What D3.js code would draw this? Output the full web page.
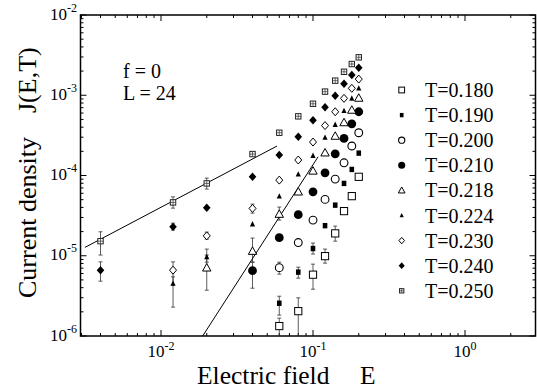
<!DOCTYPE html>
<html><head><meta charset="utf-8">
<script src="https://cdn.jsdelivr.net/npm/d3@7"></script>
<style>html,body{margin:0;padding:0;background:#fff;} svg{display:block;}</style>
</head><body>
<svg id="chart" width="537" height="391"></svg>
<script>
// ---------------- data ----------------
const E_vals = [0.004, 0.012, 0.02, 0.04, 0.06, 0.08, 0.1, 0.12, 0.14, 0.16, 0.18, 0.2];

const labels = ["T=0.180","T=0.190","T=0.200","T=0.210","T=0.218","T=0.224","T=0.230","T=0.240","T=0.250"];
const symbolTypes = ["sqOpen","sqFill","circOpen","circFill","triOpen","triFill","diaOpen","diaFill","sqCross"];

const J_T180 = [null,null,null,null,1.33e-6,2.04e-6,5.81e-6,9.89e-6,1.90e-5,3.60e-5,5.53e-5,9.63e-5];
const J_T190 = [null,null,null,null,2.56e-6,6.25e-6,1.23e-5,2.37e-5,4.27e-5,7.97e-5,1.19e-4,1.90e-4];
const J_T200 = [null,null,null,null,7.11e-6,1.46e-5,2.78e-5,5.04e-5,9.02e-5,1.44e-4,2.33e-4,3.41e-4];
const J_T210 = [null,null,null,6.52e-6,1.68e-5,3.25e-5,6.26e-5,1.08e-4,1.86e-4,2.90e-4,4.41e-4,6.23e-4];
const J_T218 = [null,null,7.07e-6,1.14e-5,3.30e-5,6.26e-5,1.14e-4,1.92e-4,3.10e-4,4.57e-4,6.54e-4,9.23e-4];
const J_T224 = [null,4.52e-6,9.69e-6,2.48e-5,5.53e-5,1.04e-4,1.77e-4,2.97e-4,4.31e-4,6.41e-4,9.15e-4,1.22e-3];
const J_T230 = [null,6.61e-6,1.77e-5,3.89e-5,8.76e-5,1.56e-4,2.61e-4,4.19e-4,6.23e-4,9.15e-4,1.22e-3,1.59e-3];
const J_T240 = [6.61e-6,2.29e-5,3.96e-5,9.63e-5,1.80e-4,3.04e-4,4.88e-4,7.09e-4,9.86e-4,1.39e-3,1.79e-3,2.20e-3];
const J_T250 = [1.52e-5,4.62e-5,7.97e-5,1.85e-4,3.41e-4,5.46e-4,7.83e-4,1.11e-3,1.52e-3,1.96e-3,2.45e-3,2.97e-3];

// error bars: [E, lower, upper]
const err_T180 = [[0.06,8e-7,1.67e-6],[0.08,8e-7,2.99e-6],[0.1,3.83e-6,7.86e-6],[0.12,8.09e-6,1.21e-5],[0.14,1.52e-5,2.34e-5]];
const err_T190 = [[0.06,1.82e-6,3.13e-6],[0.08,5.26e-6,7.21e-6],[0.1,1.05e-5,1.44e-5]];
const err_T200 = [[0.06,5.90e-6,8.32e-6]];
const err_T210 = [[0.04,3.94e-6,8.32e-6]];
const err_T218 = [[0.02,3.72e-6,1.02e-5],[0.04,8.32e-6,1.66e-5],[0.06,2.78e-5,4.04e-5]];
const err_T224 = [[0.012,2.29e-6,5.46e-6],[0.02,8.32e-6,1.21e-5]];
const err_T230 = [[0.012,4.30e-6,8.39e-6],[0.02,1.61e-5,1.97e-5],[0.04,3.40e-5,4.40e-5]];
const err_T240 = [[0.004,4.82e-6,8.39e-6],[0.012,2.09e-5,2.55e-5]];
const err_T250 = [[0.004,1.02e-5,1.99e-5],[0.012,3.92e-5,5.42e-5],[0.02,6.77e-5,9.28e-5]];

// fitted lines: two end points [E, J]
const fitLinear = [[0.00316,1.27e-5],[0.058,2.33e-4]];
const fitSteep = [[0.0188,1e-6],[0.108,1.71e-4]];

const xTickValues = [0.01, 0.1, 1];
const xTickExp = ["-2","-1","0"];
const yTickValues = [1e-6,1e-5,1e-4,1e-3,1e-2];
const yTickExp = ["-6","-5","-4","-3","-2"];

const annotations = ["f = 0", "L = 24"];
const xTitle = ["Electric field", "E"];
const yTitle = ["Current density", "J(E,T)"];

// ---------------- build ----------------
const seriesJ = [J_T180,J_T190,J_T200,J_T210,J_T218,J_T224,J_T230,J_T240,J_T250];
const seriesErr = [err_T180,err_T190,err_T200,err_T210,err_T218,err_T224,err_T230,err_T240,err_T250];

const FONT = "'Liberation Serif','Times New Roman',Times,serif";
const svg = d3.select('#chart');
const x = d3.scaleLog().domain([0.01, 1]).range([161, 465]);
const y = d3.scaleLog().domain([1e-6, 1e-2]).range([336, 15]);
const PX0 = 80.5, PX1 = 535.5;
const xLo = x.invert(PX0), xHi = x.invert(PX1);
const PY0 = y(1e-6), PY1 = y(1e-2);

svg.append('defs').append('clipPath').attr('id','clip')
  .append('rect').attr('x',PX0).attr('y',PY1).attr('width',PX1-PX0).attr('height',PY0-PY1);

// ticks
const axisG = svg.append('g').attr('stroke','#000').attr('stroke-width',1);
function decadeTicks(lo, hi){
  const out=[];
  for(let e=Math.floor(Math.log10(lo)); e<=Math.ceil(Math.log10(hi)); e++){
    for(let k=1;k<=9;k++){ const v=k*Math.pow(10,e); if(v>=lo*0.999 && v<=hi*1.001) out.push({v, major:k===1}); }
  }
  return out;
}
decadeTicks(xLo, xHi).forEach(t=>{
  const px = x(t.v), L = t.major?6:3;
  axisG.append('line').attr('x1',px).attr('x2',px).attr('y1',PY0).attr('y2',PY0-L);
  axisG.append('line').attr('x1',px).attr('x2',px).attr('y1',PY1).attr('y2',PY1+L);
});
decadeTicks(1e-6, 1e-2).forEach(t=>{
  const py = y(t.v), L = t.major?6:3;
  axisG.append('line').attr('x1',PX0).attr('x2',PX0+L).attr('y1',py).attr('y2',py);
  axisG.append('line').attr('x1',PX1).attr('x2',PX1-L).attr('y1',py).attr('y2',py);
});
svg.append('rect').attr('x',PX0).attr('y',PY1).attr('width',PX1-PX0).attr('height',PY0-PY1)
  .attr('fill','none').attr('stroke','#000').attr('stroke-width',1.5);

// tick labels
xTickValues.forEach((v,i)=>{
  const t = svg.append('text').attr('x',x(v)).attr('y',357).attr('text-anchor','middle')
    .attr('font-family',FONT).attr('font-size',17);
  t.append('tspan').text('10');
  t.append('tspan').attr('dy',-7).attr('font-size',12).text(xTickExp[i]);
});
yTickValues.forEach((v,i)=>{
  const t = svg.append('text').attr('x',77).attr('y',y(v)+4.5).attr('text-anchor','end')
    .attr('font-family',FONT).attr('font-size',17);
  t.append('tspan').text('10');
  t.append('tspan').attr('dy',-8).attr('font-size',12).text(yTickExp[i]);
});

// axis titles
svg.append('text').attr('x',197).attr('y',384).attr('font-family',FONT).attr('font-size',25.5).text(xTitle[0]);
svg.append('text').attr('x',360).attr('y',384).attr('font-family',FONT).attr('font-size',25.5).text(xTitle[1]);
svg.append('text').attr('transform','translate(35.5,298) rotate(-90)').attr('font-family',FONT).attr('font-size',26).text(yTitle[0]);
svg.append('text').attr('transform','translate(35.5,113) rotate(-90)').attr('font-family',FONT).attr('font-size',26).text(yTitle[1]);

// annotations
annotations.forEach((a,i)=>{
  svg.append('text').attr('x',123).attr('y',78+22*i).attr('font-family',FONT).attr('font-size',20).text(a);
});

// plot area
const plot = svg.append('g').attr('clip-path','url(#clip)');

// error bars
seriesErr.forEach(errs=>{
  errs.forEach(([e,lo,hi])=>{
    const px=x(e);
    plot.append('line').attr('x1',px).attr('x2',px).attr('y1',y(lo)).attr('y2',y(hi))
      .attr('stroke','#333').attr('stroke-width',0.8);
    [lo,hi].forEach(v=>plot.append('line').attr('x1',px-2).attr('x2',px+2).attr('y1',y(v)).attr('y2',y(v))
      .attr('stroke','#333').attr('stroke-width',0.8));
  });
});

// fit lines
const lineGen = d3.line().x(d=>x(d[0])).y(d=>y(d[1]));
[fitLinear, fitSteep].forEach(f=>{
  plot.append('path').attr('d',lineGen(f)).attr('fill','none').attr('stroke','#000').attr('stroke-width',1);
});

// symbols
function drawSymbol(g, type, cx, cy, s){
  switch(type){
    case 'sqOpen':
      g.append('rect').attr('x',cx-3.6*s).attr('y',cy-3.6*s).attr('width',7.2*s).attr('height',7.2*s)
        .attr('fill','#fff').attr('stroke','#000').attr('stroke-width',1); break;
    case 'sqFill':
      g.append('rect').attr('x',cx-2.3*s).attr('y',cy-2.7*s).attr('width',4.6*s).attr('height',5.4*s)
        .attr('fill','#000'); break;
    case 'circOpen':
      g.append('circle').attr('cx',cx).attr('cy',cy).attr('r',3.9*s)
        .attr('fill','#fff').attr('stroke','#000').attr('stroke-width',1.1); break;
    case 'circFill':
      g.append('circle').attr('cx',cx).attr('cy',cy).attr('r',4.4*s).attr('fill','#000'); break;
    case 'triOpen':
      g.append('path').attr('d',`M${cx},${cy-4.3*s}L${cx+4.2*s},${cy+3.2*s}L${cx-4.2*s},${cy+3.2*s}Z`)
        .attr('fill','#fff').attr('stroke','#000').attr('stroke-width',1); break;
    case 'triFill':
      g.append('path').attr('d',`M${cx},${cy-3*s}L${cx+2.6*s},${cy+2.3*s}L${cx-2.6*s},${cy+2.3*s}Z`)
        .attr('fill','#000'); break;
    case 'diaOpen':
      g.append('path').attr('d',`M${cx},${cy-4*s}L${cx+3.5*s},${cy}L${cx},${cy+4*s}L${cx-3.5*s},${cy}Z`)
        .attr('fill','#fff').attr('stroke','#000').attr('stroke-width',1); break;
    case 'diaFill':
      g.append('path').attr('d',`M${cx},${cy-4.2*s}L${cx+3.8*s},${cy}L${cx},${cy+4.2*s}L${cx-3.8*s},${cy}Z`)
        .attr('fill','#000'); break;
    case 'sqCross':
      g.append('rect').attr('x',cx-2.7*s).attr('y',cy-2.7*s).attr('width',5.4*s).attr('height',5.4*s)
        .attr('fill','#fff').attr('stroke','#222').attr('stroke-width',1);
      g.append('path').attr('d',`M${cx-2.7*s},${cy}H${cx+2.7*s}M${cx},${cy-2.7*s}V${cy+2.7*s}`)
        .attr('stroke','#444').attr('stroke-width',0.8); break;
  }
}

seriesJ.forEach((arr,i)=>{
  arr.forEach((j,k)=>{
    if(j==null) return;
    drawSymbol(plot, symbolTypes[i], x(E_vals[k]), y(j), 1);
  });
});

// legend
labels.forEach((lab,i)=>{
  const by = 97 + 25.1*i;
  drawSymbol(svg, symbolTypes[i], 401.7, by-7, 0.8);
  svg.append('text').attr('x',425).attr('y',by).attr('font-family',FONT).attr('font-size',20).text(lab);
});
</script>
</body></html>
